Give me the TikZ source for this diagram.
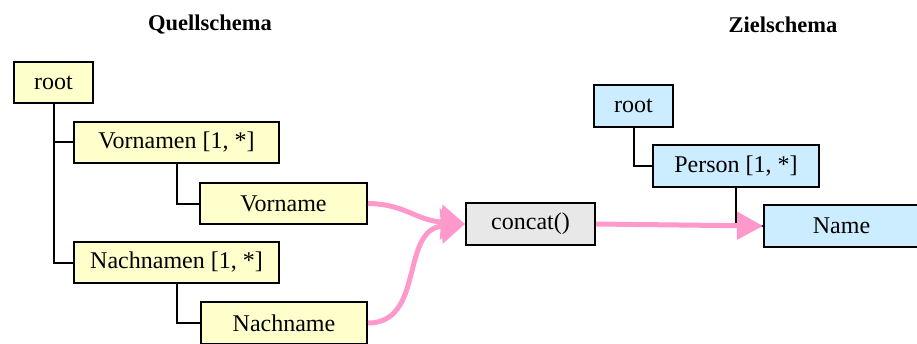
\documentclass[tikz,border=0pt]{standalone}
\usepackage{fontspec}
\setmainfont{Liberation Serif}
\usetikzlibrary{arrows.meta}
\definecolor{quellgelb}{RGB}{255,255,204}
\definecolor{zielblau}{RGB}{204,236,255}
\definecolor{abbrosa}{RGB}{255,153,204}
\definecolor{funkgrau}{RGB}{232,232,232}
\tikzset{
  elem/.style={draw=black, line width=2pt, inner sep=0pt, minimum height=41pt,
    font=\fontsize{24}{28}\selectfont},
  quell/.style={elem, fill=quellgelb},
  ziel/.style={elem, fill=zielblau},
  funk/.style={elem, fill=funkgrau},
  baum/.style={draw=black, line width=2pt},
  abb/.style={draw=abbrosa, line width=5pt, -{Triangle[length=24pt,width=34pt]}},
  titel/.style={font=\fontsize{22.5}{26}\selectfont\bfseries}
}
\begin{document}
\begin{tikzpicture}[x=1pt, y=-1pt]
\useasboundingbox (0,0) rectangle (917,343);
\node[titel] (qtitel) at (210,25) {Quellschema};
\node[titel] (ztitel) at (783,25) {Zielschema};
% Quellschema
\node[quell, minimum width=79pt] (qroot) at (53.5,82.5) {root};
\node[quell, minimum width=205pt] (vornamen) at (176.5,142) {Vornamen [1, *]};
\node[quell, minimum width=167pt] (vorname) at (283.5,203.5) {Vorname};
\node[quell, minimum width=205pt] (nachnamen) at (176.5,262.5) {Nachnamen [1, *]};
\node[quell, minimum width=166pt, minimum height=42pt] (nachname) at (284,323) {Nachname};
\draw[baum] (qroot.south) |- (vornamen.west);
\draw[baum] (qroot.south) |- (nachnamen.west);
\draw[baum] (vornamen.south) |- (vorname.west);
\draw[baum] (nachnamen.south) |- (nachname.west);
% Funktion
\node[funk, minimum width=129pt, minimum height=42pt] (concat) at (530.5,224) {concat()};
% Zielschema
\node[ziel, minimum width=79pt, minimum height=42pt] (zroot) at (633.5,106) {root};
\node[ziel, minimum width=166pt, minimum height=42pt] (person) at (736,166) {Person [1, *]};
\node[ziel, minimum width=155pt, minimum height=42pt] (name) at (841.5,226) {Name};
\draw[baum] (zroot.south) |- (person.west);
\draw[baum] (person.south) |- (name.west);
% Abbildungen
\draw[abb] (vorname.east) .. controls (405,204) and (415,220) .. (concat.west);
\draw[abb] (nachname.east) .. controls (425,323) and (400,230) .. (concat.west);
\draw[abb, -{Triangle[length=26pt,width=27pt]}] (concat.east) -- (name.west);
\end{tikzpicture}
\end{document}
